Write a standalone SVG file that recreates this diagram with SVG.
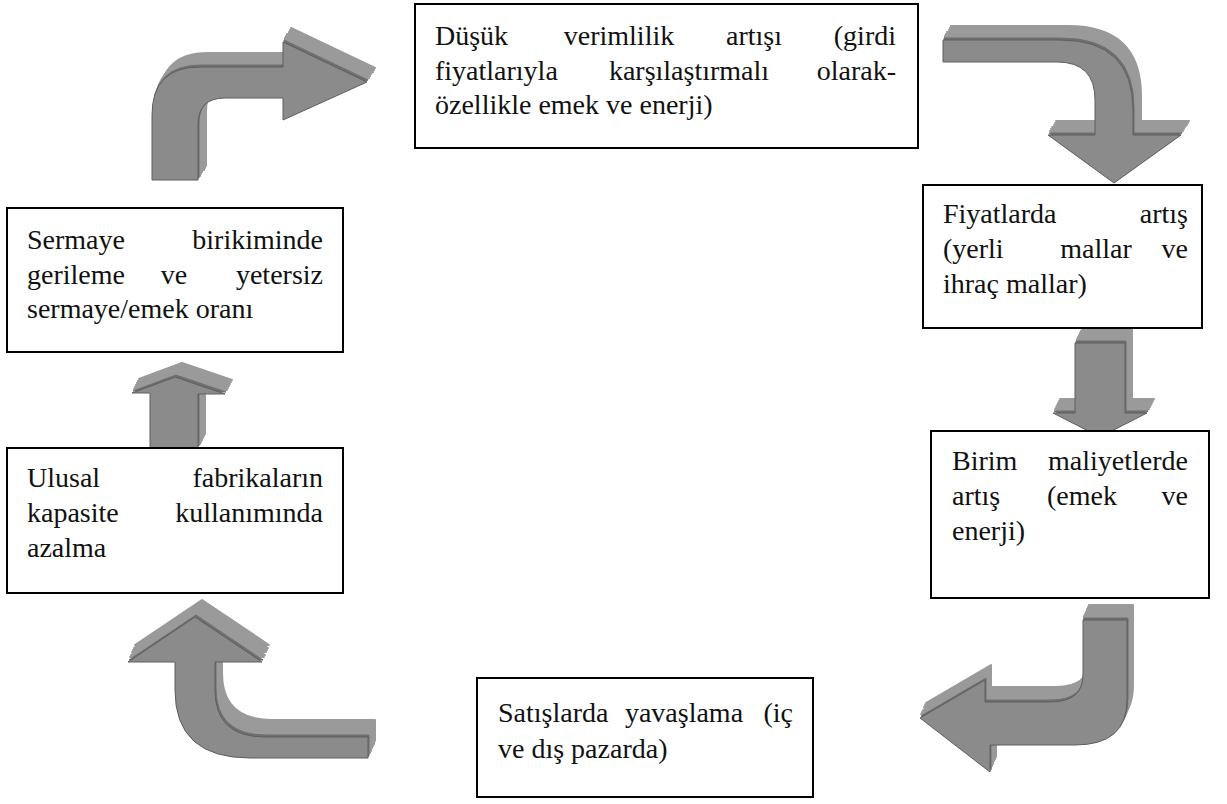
<svg xmlns="http://www.w3.org/2000/svg" xmlns:xlink="http://www.w3.org/1999/xlink" width="1227" height="804" viewBox="0 0 1227 804">
<style>
.box{fill:#fff;stroke:#000;stroke-width:2}
.t{font-family:'Liberation Serif','DejaVu Serif',serif;font-size:28px;fill:#111}
.e{text-anchor:end}
.m{text-anchor:middle}
.ext{fill:#9a9a9a;stroke:#9a9a9a;stroke-width:2;stroke-linejoin:round}
.extd{fill:#6f6f6f;stroke:#6f6f6f;stroke-width:1}
.front{fill:#8b8b8b;stroke:#5e5e5e;stroke-width:1}
</style>
<defs>
<path id="a1" d="M152,180 L152,115 Q152,67 200,67 L283,67 L283,42 L367,82 L283,120 L283,98 L225,98 Q198,98 198,125 L198,180 Z"/>
<path id="a2" d="M943,40 L1060,40 Q1133,40 1133,110 L1133,135 L1181,135 L1114,183 L1048,135 L1095,135 L1095,100 Q1095,62 1057,62 L943,62 Z"/>
<path id="a3" d="M1075,343 L1125,343 L1125,413 L1147,413 L1100,437 L1053,413 L1075,413 Z"/>
<path id="a4" d="M150,448 L150,393 L132,393 L175,377 L225,394 L198,394 L198,448 Z"/>
<path id="a5" d="M368,737 L265,737 Q215,737 215,690 L215,662 L262,662 L195,617 L128,662 L175,662 L175,690 Q175,758 250,758 L368,758 Z"/>
<path id="a6" d="M1083,620 L1127,620 L1127,700 Q1127,745 1075,745 L990,745 L990,772 L920,718 L985,680 L985,702 L1050,702 Q1083,702 1083,675 Z"/>
</defs>

<g id="connectors">
  <g id="arrow1">
    <use xlink:href="#a1" class="ext" transform="translate(8,-14)"/>
    <use xlink:href="#a1" class="ext" transform="translate(7,-12)"/>
    <use xlink:href="#a1" class="ext" transform="translate(6,-10)"/>
    <use xlink:href="#a1" class="ext" transform="translate(4,-8)"/>
    <use xlink:href="#a1" class="ext" transform="translate(3,-6)"/>
    <use xlink:href="#a1" class="ext" transform="translate(2,-4)"/>
    <use xlink:href="#a1" class="extd" transform="translate(1,-2)"/>
    <use xlink:href="#a1" class="front"/>
  </g>
  <g id="arrow2">
    <use xlink:href="#a2" class="ext" transform="translate(8,-14)"/>
    <use xlink:href="#a2" class="ext" transform="translate(7,-12)"/>
    <use xlink:href="#a2" class="ext" transform="translate(6,-10)"/>
    <use xlink:href="#a2" class="ext" transform="translate(4,-8)"/>
    <use xlink:href="#a2" class="ext" transform="translate(3,-6)"/>
    <use xlink:href="#a2" class="ext" transform="translate(2,-4)"/>
    <use xlink:href="#a2" class="extd" transform="translate(1,-2)"/>
    <use xlink:href="#a2" class="front"/>
  </g>
  <g id="arrow3">
    <use xlink:href="#a3" class="ext" transform="translate(7,-14)"/>
    <use xlink:href="#a3" class="ext" transform="translate(6,-12)"/>
    <use xlink:href="#a3" class="ext" transform="translate(5,-10)"/>
    <use xlink:href="#a3" class="ext" transform="translate(4,-8)"/>
    <use xlink:href="#a3" class="ext" transform="translate(3,-6)"/>
    <use xlink:href="#a3" class="ext" transform="translate(2,-4)"/>
    <use xlink:href="#a3" class="extd" transform="translate(1,-2)"/>
    <use xlink:href="#a3" class="front"/>
  </g>
  <g id="arrow4">
    <use xlink:href="#a4" class="ext" transform="translate(7,-14)"/>
    <use xlink:href="#a4" class="ext" transform="translate(6,-12)"/>
    <use xlink:href="#a4" class="ext" transform="translate(5,-10)"/>
    <use xlink:href="#a4" class="ext" transform="translate(4,-8)"/>
    <use xlink:href="#a4" class="ext" transform="translate(3,-6)"/>
    <use xlink:href="#a4" class="ext" transform="translate(2,-4)"/>
    <use xlink:href="#a4" class="extd" transform="translate(1,-2)"/>
    <use xlink:href="#a4" class="front"/>
  </g>
  <g id="arrow5">
    <use xlink:href="#a5" class="ext" transform="translate(7,-17)"/>
    <use xlink:href="#a5" class="ext" transform="translate(6,-14)"/>
    <use xlink:href="#a5" class="ext" transform="translate(5,-12)"/>
    <use xlink:href="#a5" class="ext" transform="translate(4,-10)"/>
    <use xlink:href="#a5" class="ext" transform="translate(3,-7)"/>
    <use xlink:href="#a5" class="ext" transform="translate(2,-5)"/>
    <use xlink:href="#a5" class="extd" transform="translate(1,-2)"/>
    <use xlink:href="#a5" class="front"/>
  </g>
  <g id="arrow6">
    <use xlink:href="#a6" class="ext" transform="translate(6,-15)"/>
    <use xlink:href="#a6" class="ext" transform="translate(5,-13)"/>
    <use xlink:href="#a6" class="ext" transform="translate(4,-11)"/>
    <use xlink:href="#a6" class="ext" transform="translate(3,-8)"/>
    <use xlink:href="#a6" class="ext" transform="translate(2,-6)"/>
    <use xlink:href="#a6" class="ext" transform="translate(1,-4)"/>
    <use xlink:href="#a6" class="extd" transform="translate(1,-2)"/>
    <use xlink:href="#a6" class="front"/>
  </g>
</g>

<g id="node-top">
  <rect class="box" x="415" y="4" width="503" height="144"/>
  <text class="t" x="435" y="45">Düşük</text>
  <text class="t m" x="619" y="45">verimlilik</text>
  <text class="t m" x="754" y="45">artışı</text>
  <text class="t e" x="896" y="45">(girdi</text>
  <text class="t" x="435" y="80">fiyatlarıyla</text>
  <text class="t m" x="689" y="80">karşılaştırmalı</text>
  <text class="t e" x="896" y="80">olarak-</text>
  <text class="t" x="435" y="114">özellikle emek ve enerji)</text>
</g>

<g id="node-fiyat">
  <rect class="box" x="923" y="185" width="279" height="143"/>
  <text class="t" x="943" y="223">Fiyatlarda</text>
  <text class="t e" x="1188" y="223">artış</text>
  <text class="t" x="943" y="258">(yerli</text>
  <text class="t m" x="1096" y="258">mallar</text>
  <text class="t e" x="1188" y="258">ve</text>
  <text class="t" x="943" y="293">ihraç mallar)</text>
</g>

<g id="node-birim">
  <rect class="box" x="931" y="431" width="278" height="167"/>
  <text class="t" x="952" y="470">Birim</text>
  <text class="t e" x="1188" y="470">maliyetlerde</text>
  <text class="t" x="952" y="505">artış</text>
  <text class="t m" x="1082" y="505">(emek</text>
  <text class="t e" x="1188" y="505">ve</text>
  <text class="t" x="952" y="540">enerji)</text>
</g>

<g id="node-satis">
  <rect class="box" x="477" y="678" width="336" height="119"/>
  <text class="t" x="498" y="722">Satışlarda</text>
  <text class="t m" x="684" y="722">yavaşlama</text>
  <text class="t e" x="793" y="722">(iç</text>
  <text class="t" x="498" y="758">ve dış pazarda)</text>
</g>

<g id="node-ulusal">
  <rect class="box" x="7" y="448" width="336" height="145"/>
  <text class="t" x="27" y="487">Ulusal</text>
  <text class="t e" x="323" y="487">fabrikaların</text>
  <text class="t" x="27" y="522">kapasite</text>
  <text class="t e" x="323" y="522">kullanımında</text>
  <text class="t" x="27" y="557">azalma</text>
</g>

<g id="node-sermaye">
  <rect class="box" x="7" y="208" width="336" height="144"/>
  <text class="t" x="27" y="249">Sermaye</text>
  <text class="t e" x="323" y="249">birikiminde</text>
  <text class="t" x="27" y="284">gerileme</text>
  <text class="t m" x="174" y="284">ve</text>
  <text class="t e" x="323" y="284">yetersiz</text>
  <text class="t" x="27" y="318">sermaye/emek oranı</text>
</g>
</svg>
